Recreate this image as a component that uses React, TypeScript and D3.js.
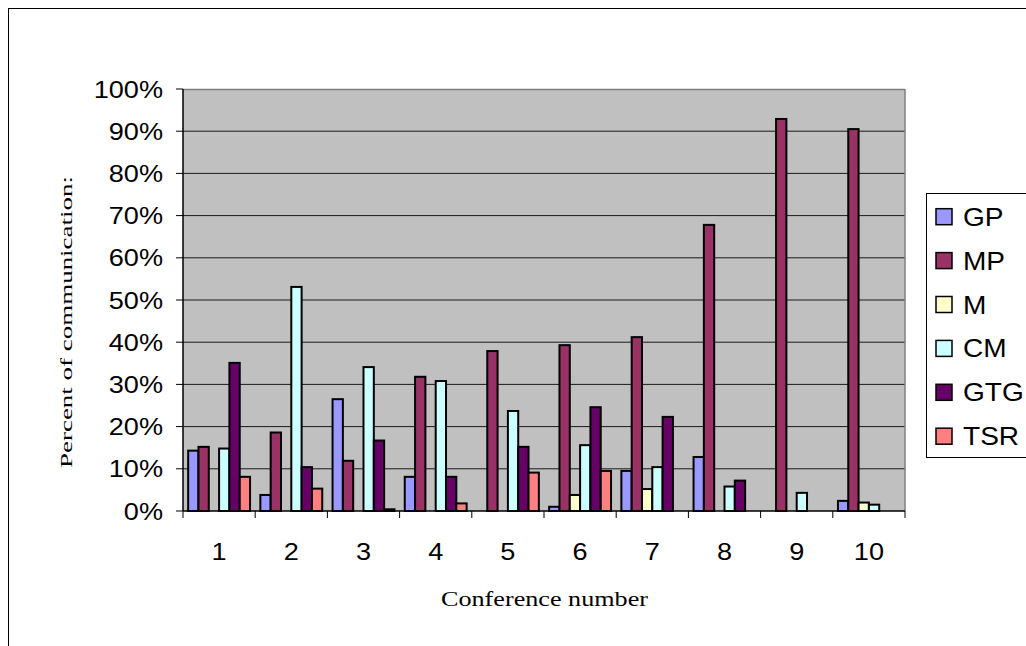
import React from "react";
import * as d3 from "d3";

const categories = ["1", "2", "3", "4", "5", "6", "7", "8", "9", "10"];
const seriesNames = ["GP", "MP", "M", "CM", "GTG", "TSR"];
const GP = [14.3, 3.8, 26.5, 8.1, 0, 1.0, 9.5, 12.8, 0, 2.4];
const MP = [15.2, 18.6, 11.9, 31.8, 37.9, 39.3, 41.2, 67.8, 92.9, 90.5];
const M = [0, 0, 0, 0, 0, 3.8, 5.2, 0, 0, 2.0];
const CM = [14.8, 53.1, 34.1, 30.8, 23.7, 15.6, 10.4, 5.8, 4.3, 1.5];
const GTG = [35.1, 10.4, 16.7, 8.1, 15.2, 24.6, 22.3, 7.2, 0, 0];
const TSR = [8.1, 5.3, 0.4, 1.8, 9.1, 9.5, 0, 0, 0, 0];
const seriesColors = ["#9999FF", "#993366", "#FFFFCC", "#CCFFFF", "#660066", "#FF8080"];
const yTicks = [0, 10, 20, 30, 40, 50, 60, 70, 80, 90, 100];

const seriesValues = [GP, MP, M, CM, GTG, TSR];

export default function App() {
  const left = 183, right = 905, top = 89, bottom = 511;
  const x = d3.scaleBand<string>().domain(categories).range([left, right]).paddingInner(0).paddingOuter(0);
  const xInner = d3.scaleBand<string>().domain(seriesNames).range([0, x.bandwidth()]).paddingInner(0).paddingOuter(0.5);
  const y = d3.scaleLinear().domain([0, 100]).range([bottom, top]);
  const sans = "'Liberation Sans', Arial, sans-serif";
  const serif = "'Liberation Serif', 'Times New Roman', serif";
  const sx = 1.13;

  const legendTop = 193;
  const legendStep = 43.9;

  return (
    <svg width={1026} height={646} style={{ position: "absolute", left: 0, top: 0, background: "#fff" }}>
      <rect x={8.5} y={8.5} width={1040} height={660} fill="#fff" stroke="#000" strokeWidth={1} />
      {/* plot area */}
      <rect x={left} y={top} width={right - left} height={bottom - top} fill="#C0C0C0" />
      {yTicks.filter((t) => t > 0 && t < 100).map((t) => (
        <line key={"g" + t} x1={left} x2={right} y1={y(t)} y2={y(t)} stroke="#1a1a1a" strokeWidth={1} />
      ))}
      <line x1={left} x2={right} y1={top + 0.5} y2={top + 0.5} stroke="#808080" strokeWidth={1.5} />
      <line x1={right} x2={right} y1={top} y2={bottom} stroke="#808080" strokeWidth={1.5} />
      {/* bars */}
      {seriesValues.map((vals, si) =>
        vals.map((v, ci) => {
          if (!v) return null;
          const bx = (x(categories[ci]) as number) + (xInner(seriesNames[si]) as number);
          return (
            <rect
              key={si + "-" + ci}
              x={bx}
              y={y(v)}
              width={xInner.bandwidth()}
              height={y(0) - y(v)}
              fill={seriesColors[si]}
              stroke="#000"
              strokeWidth={2}
            />
          );
        })
      )}
      {/* axes */}
      <line x1={left} x2={left} y1={top} y2={bottom} stroke="#000" strokeWidth={1.5} />
      <line x1={left} x2={right} y1={bottom} y2={bottom} stroke="#000" strokeWidth={1.5} />
      {yTicks.map((t) => (
        <g key={"yt" + t}>
          <line x1={left - 7} x2={left} y1={y(t)} y2={y(t)} stroke="#000" strokeWidth={1} />
          <g transform={`translate(${163},${y(t) + 8.5}) scale(${sx},1)`}>
            <text x={0} y={0} textAnchor="end" fontFamily={sans} fontSize={24} fill="#000">
              {t + "%"}
            </text>
          </g>
        </g>
      ))}
      {categories.map((c, i) => (
        <line key={"xt" + i} x1={x(c) as number} x2={x(c) as number} y1={bottom} y2={bottom + 7} stroke="#000" strokeWidth={1} />
      ))}
      <line x1={right} x2={right} y1={bottom} y2={bottom + 7} stroke="#000" strokeWidth={1} />
      {categories.map((c) => (
        <g key={"xl" + c} transform={`translate(${(x(c) as number) + x.bandwidth() / 2},${560}) scale(${sx},1)`}>
          <text x={0} y={0} textAnchor="middle" fontFamily={sans} fontSize={24} fill="#000">
            {c}
          </text>
        </g>
      ))}
      {/* axis titles */}
      <text
        x={544.5}
        y={606}
        textAnchor="middle"
        fontFamily={serif}
        fontSize={21}
        textLength={207}
        lengthAdjust="spacingAndGlyphs"
        fill="#000"
      >
        Conference number
      </text>
      <text
        transform={`translate(72,${322}) rotate(-90)`}
        x={0}
        y={0}
        textAnchor="middle"
        fontFamily={serif}
        fontSize={17}
        textLength={292}
        lengthAdjust="spacingAndGlyphs"
        fill="#000"
      >
        Percent of communication:
      </text>
      {/* legend */}
      <rect x={926.5} y={legendTop + 0.5} width={120} height={264} fill="#fff" stroke="#000" strokeWidth={1} />
      {seriesNames.map((s, i) => {
        const cy = legendTop + 23.7 + i * legendStep;
        return (
          <g key={"lg" + s}>
            <rect x={936} y={cy - 8} width={16} height={16} fill={seriesColors[i]} stroke="#000" strokeWidth={1.5} />
            <g transform={`translate(963,${cy + 9}) scale(1.1,1)`}>
              <text x={0} y={0} fontFamily={sans} fontSize={25.5} fill="#000">
                {s}
              </text>
            </g>
          </g>
        );
      })}
    </svg>
  );
}
